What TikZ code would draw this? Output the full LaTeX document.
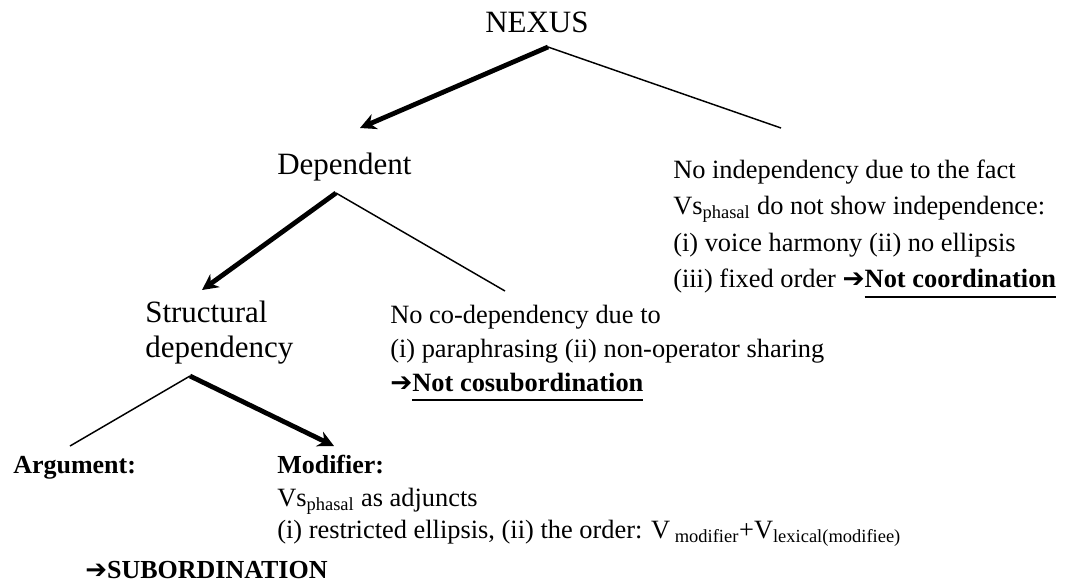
\documentclass[tikz,border=0pt]{standalone}
\usepackage{fontspec}
\setmainfont{Liberation Serif}
\newfontfamily\arrowfont{DejaVu Sans}
\usetikzlibrary{arrows.meta}
% heavy right arrow glyph and a thick underline
\newcommand\rarr{{\arrowfont\char"2794}}
\newcommand\myul[1]{\setbox0\hbox{#1}\rlap{\rule[-7.6pt]{\wd0}{1.6pt}}\box0}

\tikzset{
  big/.style={font=\fontsize{23.25}{28}\selectfont, inner sep=0pt, anchor=base west},
  txt/.style={font=\fontsize{19.8}{24}\selectfont, inner sep=0pt, anchor=base west},
  bld/.style={font=\fontsize{19.5}{24}\selectfont\bfseries, inner sep=0pt, anchor=base west},
  heavy/.style={line width=3.6pt, -{Stealth[length=12pt,width=12pt]}},
  light/.style={line width=1.1pt},
}

\begin{document}
\begin{tikzpicture}[x=0.75pt, y=-0.75pt]
\useasboundingbox (0,0) rectangle (1073,583);

% ---- level 0
\node[big] (nexus) at (485,32) {NEXUS};

% ---- level 1
\node[big] (dep) at (277,174) {Dependent};
\node[txt] (ind1) at (673,178) {No independency due to the fact};
\node[txt] (ind2) at (673,214.5) {Vs\textsubscript{phasal} do not show independence:};
\node[txt] (ind3) at (673,251) {(i) voice harmony (ii) no ellipsis};
\node[txt] (ind4) at (673,287.5) {(iii) fixed order \rarr\textbf{\myul{Not coordination}}};

% ---- level 2
\node[big] (str1) at (145,322) {Structural};
\node[big] (str2) at (145,357) {dependency};
\node[txt] (cod1) at (390,323) {No co-dependency due to};
\node[txt] (cod2) at (390,357) {(i) paraphrasing (ii) non-operator sharing};
\node[txt] (cod3) at (390,391) {\rarr\textbf{\myul{Not cosubordination}}};

% ---- level 3
\node[bld] (arg) at (13,473) {Argument:};
\node[bld] (mod) at (277,473) {Modifier:};
\node[txt] (mod2) at (277,506) {Vs\textsubscript{phasal} as adjuncts};
\node[txt] (mod3) at (277,538) {(i) restricted ellipsis, (ii) the order: V\textsubscript{ modifier}+V\textsubscript{lexical(modifiee)}};
\node[bld] (sub) at (85,578) {\rarr SUBORDINATION};

% ---- branch points and branch ends
\coordinate (a1) at (548,47);
\coordinate (t1) at (360,128);
\coordinate (e1) at (781,128);
\coordinate (a2) at (336,193);
\coordinate (t2) at (202,290);
\coordinate (e2) at (505,291);
\coordinate (a3) at (190,376);
\coordinate (e3) at (70,446);
\coordinate (t3) at (334,446);

\draw[heavy] (a1) -- (t1);
\draw[light] (a1) -- (e1);
\draw[heavy] (a2) -- (t2);
\draw[light] (a2) -- (e2);
\draw[light] (a3) -- (e3);
\draw[heavy] (a3) -- (t3);
\end{tikzpicture}
\end{document}
